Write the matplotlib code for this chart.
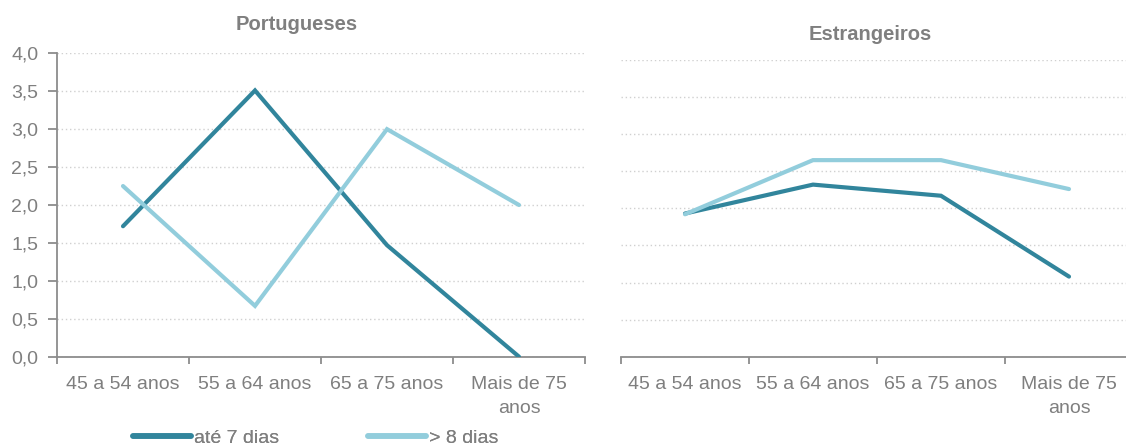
import matplotlib
matplotlib.use("Agg")
import matplotlib.pyplot as plt
from matplotlib.lines import Line2D

categories = ["45 a 54 anos", "55 a 64 anos", "65 a 75 anos", "Mais de 75\nanos"]
series_names = ["até 7 dias", "> 8 dias"]

port_ate7 = [1.72, 3.51, 1.47, 0.0]
port_mais8 = [2.25, 0.67, 3.0, 2.0]
estr_ate7 = [1.93, 2.32, 2.17, 1.08]
estr_mais8 = [1.92, 2.65, 2.65, 2.26]

y_ticks = [0.0, 0.5, 1.0, 1.5, 2.0, 2.5, 3.0, 3.5, 4.0]
y_tick_labels = ["0,0", "0,5", "1,0", "1,5", "2,0", "2,5", "3,0", "3,5", "4,0"]

plt.rcParams["font.family"] = ["Liberation Sans", "DejaVu Sans"]

DARK = "#31859C"
LIGHT = "#92CDDC"
TEXT = "#7F7F7F"
SPINE = "#8C8C8C"
GRID = "#D0D0D0"
FS = 14
W, H = 1126, 447

fig = plt.figure(figsize=(W / 100, H / 100), dpi=100)
ax_l = fig.add_axes([57 / W, 1 - 356.7 / H, 528 / W, 303.4 / H])
ax_r = fig.add_axes([621 / W, 1 - 356.7 / H, 512 / W, 296.7 / H])


def style(ax, a7, m8, show_y):
    x = [i + 0.5 for i in range(len(categories))]
    ax.plot(x, a7, color=DARK, lw=3.0, solid_capstyle="round", solid_joinstyle="miter", zorder=3)
    ax.plot(x, m8, color=LIGHT, lw=3.0, solid_capstyle="round", solid_joinstyle="miter", zorder=3)
    ax.set_xlim(0, len(categories))
    ax.set_ylim(0, 4.0)
    ax.set_yticks(y_ticks)
    ax.yaxis.grid(True, color=GRID, ls=(0, (1, 2)), lw=1.0)
    ax.set_axisbelow(True)
    ax.set_xticks(range(len(categories) + 1))
    ax.set_xticklabels([""] * (len(categories) + 1))
    ax.set_xticks(x, minor=True)
    ax.set_xticklabels(categories, minor=True, fontsize=FS, color=TEXT, linespacing=1.5)
    ax.tick_params(axis="x", which="minor", length=0, pad=14)
    ax.tick_params(axis="x", which="major", length=5, color=SPINE, width=1.3, direction="out")
    for s in ("top", "right"):
        ax.spines[s].set_visible(False)
    ax.spines["bottom"].set_color(SPINE)
    ax.spines["bottom"].set_linewidth(1.3)
    if show_y:
        ax.set_yticklabels(y_tick_labels, fontsize=FS, color=TEXT)
        ax.tick_params(axis="y", length=6.5, color=SPINE, width=1.3, pad=7)
        ax.spines["left"].set_color(SPINE)
        ax.spines["left"].set_linewidth(1.3)
    else:
        ax.spines["left"].set_visible(False)
        ax.tick_params(axis="y", length=0, labelleft=False)


style(ax_l, port_ate7, port_mais8, True)
style(ax_r, estr_ate7, estr_mais8, False)

fig.text(297 / W, 1 - 25 / H, "Portugueses", ha="center", va="center",
         fontsize=14.5, fontweight="bold", color=TEXT)
fig.text(870 / W, 1 - 34 / H, "Estrangeiros", ha="center", va="center",
         fontsize=14.5, fontweight="bold", color=TEXT)

# one legend entry per series, each placed on its own anchor
for name, color, x0 in ((series_names[0], DARK, 133), (series_names[1], LIGHT, 368)):
    h = Line2D([], [], color=color, lw=4.0, solid_capstyle="round")
    leg = fig.legend([h], [name], loc="center left", bbox_to_anchor=(x0 / W, 1 - 438 / H),
                     frameon=False, fontsize=FS, handlelength=3.0, handletextpad=0.15,
                     borderaxespad=0, borderpad=0)
    for t in leg.get_texts():
        t.set_color(TEXT)
    fig.add_artist(leg)

fig.savefig("out.png", dpi=100)
